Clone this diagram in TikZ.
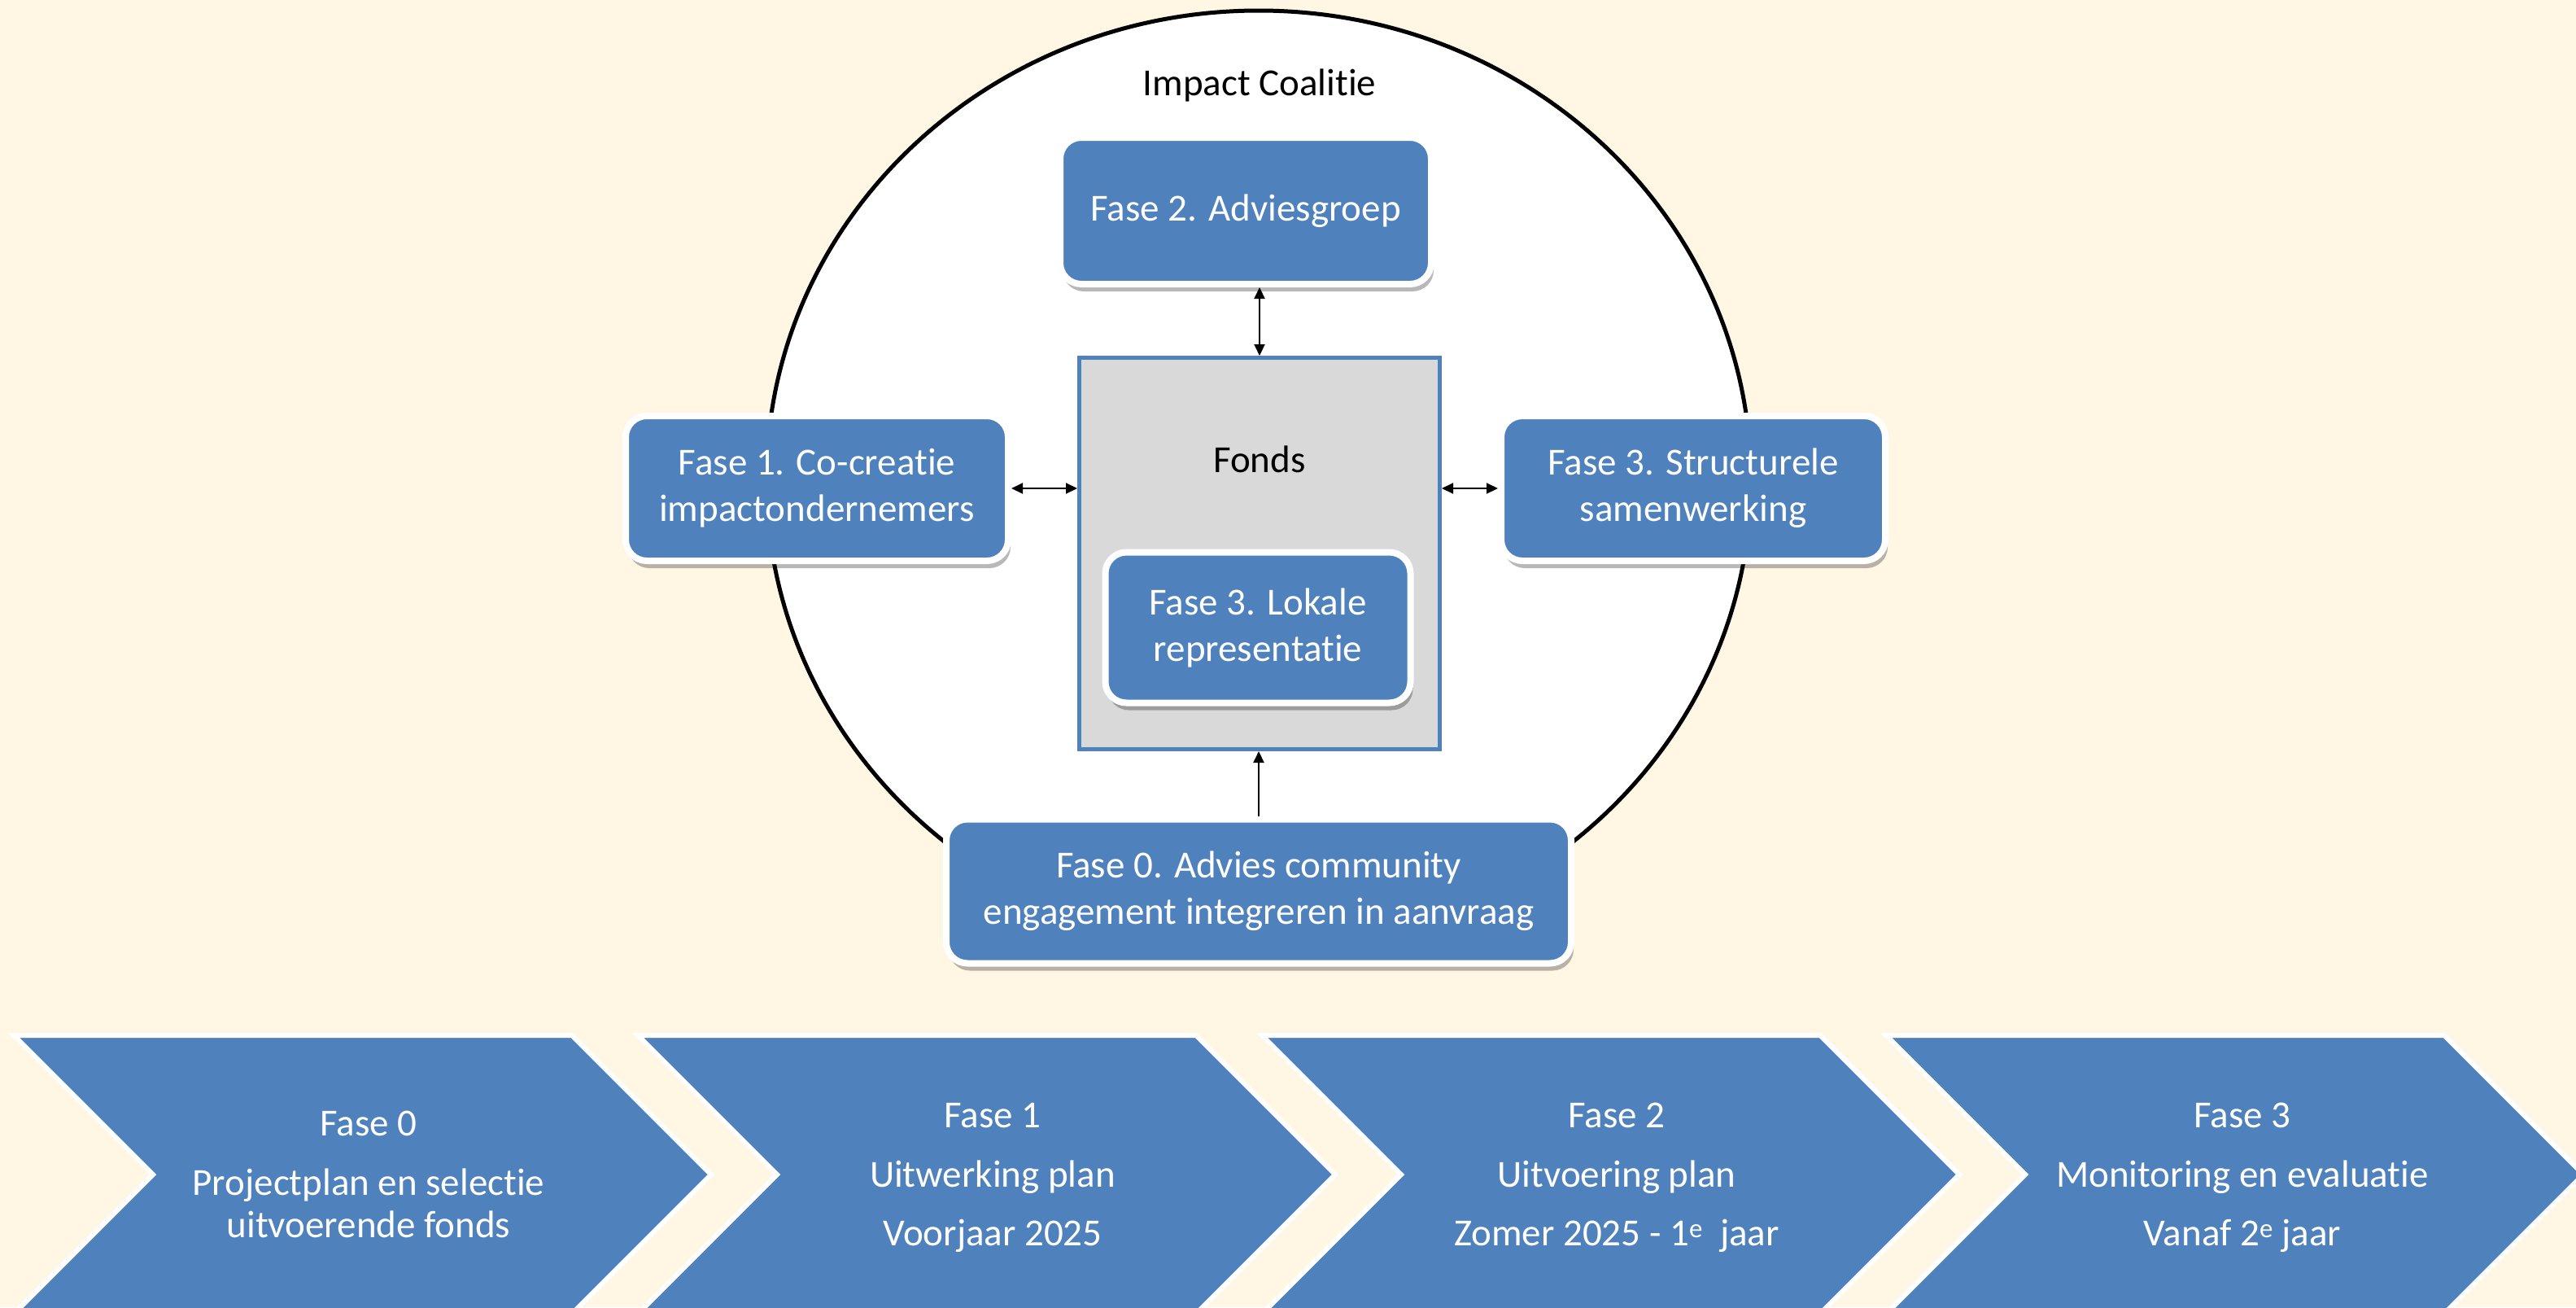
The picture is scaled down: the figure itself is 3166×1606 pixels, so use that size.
\documentclass[tikz,border=0pt]{standalone}
\usepackage{fontspec}
\setmainfont{Carlito}[Ligatures={NoCommon}]
\usetikzlibrary{arrows.meta,shadows}
\definecolor{bg}{HTML}{FFF6E4}
\definecolor{myblue}{HTML}{4F81BD}
\definecolor{fondsgrey}{HTML}{D9D9D9}
\begin{document}
\begin{tikzpicture}[x=1pt,y=-1pt,
  phasebox/.style={rounded corners=26pt, fill=myblue, draw=white, line width=8pt,
    text=white, align=center, inner sep=0pt, font=\fontsize{47}{57}\selectfont,
    drop shadow={shadow xshift=3pt, shadow yshift=-9pt, opacity=0.28, fill=black}},
  fondsbox/.style={fill=fondsgrey, draw=myblue, line width=5pt, inner sep=0pt},
  blacktext/.style={text=black, font=\fontsize{47}{57}\selectfont, anchor=base, inner sep=0pt},
  chevtext/.style={text=white, font=\fontsize{47}{52}\selectfont, anchor=base, inner sep=0pt},
  chev/.style={fill=myblue, draw=white, line width=6pt, line join=miter},
  conn/.style={line width=2pt, draw=black},
  dbl/.style={conn, {Triangle[length=14pt,width=13pt]}-{Triangle[length=14pt,width=13pt]}},
  sgl/.style={conn, -{Triangle[length=14pt,width=13pt]}}
]
\useasboundingbox (0,0) rectangle (3166,1606);
\fill[bg] (0,0) rectangle (3166,1606);

% coalition ellipse
\draw[line width=5pt, fill=white] (1547,590) ellipse [x radius=605pt, y radius=577pt];
\node[blacktext] (impact) at (1548,117) {Impact Coalitie};

% fund
\node[fondsbox, minimum width=443pt, minimum height=481pt] (fonds) at (1548,680) {};
\node[blacktext] (fondslabel) at (1548,580) {Fonds};

% phase boxes
\node[phasebox, minimum width=456pt, minimum height=180pt] (f2) at (1531,259) {Fase 2. Adviesgroep};
\node[phasebox, minimum width=470pt, minimum height=178pt] (f1) at (1004,600) {Fase 1. Co-creatie\\impactondernemers};
\node[phasebox, minimum width=472pt, minimum height=178pt] (f3s) at (2081,600) {Fase 3. Structurele\\samenwerking};
\node[phasebox, minimum width=375pt, minimum height=185pt] (f3l) at (1546,771) {Fase 3. Lokale\\representatie};
\node[phasebox, minimum width=768pt, minimum height=177pt] (f0) at (1547,1095) {Fase 0. Advies community\\engagement integreren in aanvraag};

% connectors
\draw[dbl] (f2.south -| fonds.north) -- (fonds.north);
\draw[dbl] (f1.east) -- (f1.east -| fonds.west);
\draw[dbl] (fonds.east |- f3s.west) -- (f3s.west);
\draw[sgl] (f0.north) -- (f0.north |- fonds.south);

% chevrons
\begin{scope}
\clip (0,0) rectangle (3166,1606);
\foreach \i in {0,1,2,3} {
  \pgfmathsetmacro\xo{17+767*\i}
  \draw[chev] (\xo,1272) -- ++(686,0) -- ++(171,171) -- ++(-171,171) -- ++(-686,0) -- ++(171,-171) -- cycle;
}
\end{scope}

\node[chevtext] (c0a) at (453,1395) {Fase 0};
\node[chevtext] (c0b) at (453,1468) {Projectplan en selectie};
\node[chevtext] (c0c) at (453,1520) {uitvoerende fonds};

\node[chevtext] (c1a) at (1220,1385) {Fase 1};
\node[chevtext] (c1b) at (1220,1458) {Uitwerking plan};
\node[chevtext] (c1c) at (1220,1530) {Voorjaar 2025};

\node[chevtext] (c2a) at (1987,1385) {Fase 2};
\node[chevtext] (c2b) at (1987,1458) {Uitvoering plan};
\node[chevtext] (c2c) at (1987,1530) {Zomer 2025 - 1\textsuperscript{e}\ \ jaar};

\node[chevtext] (c3a) at (2756,1385) {Fase 3};
\node[chevtext] (c3b) at (2756,1458) {Monitoring en evaluatie};
\node[chevtext] (c3c) at (2756,1530) {Vanaf 2\textsuperscript{e} jaar};
\end{tikzpicture}
\end{document}
